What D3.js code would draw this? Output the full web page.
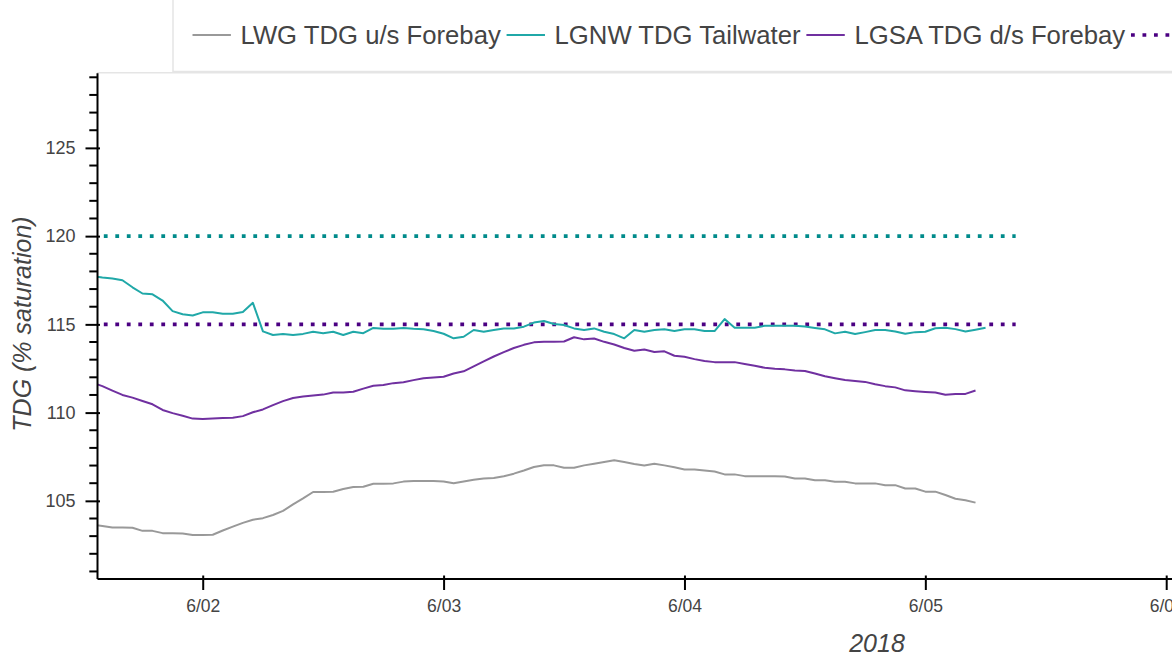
<!DOCTYPE html>
<html>
<head>
<meta charset="utf-8">
<script src="https://cdn.jsdelivr.net/npm/d3@7"></script>
<style>
  html, body { margin: 0; padding: 0; background: #fff; overflow: hidden; }
  svg { display: block; font-family: "Liberation Sans", Arial, Helvetica, sans-serif; }
</style>
</head>
<body>
<svg id="chart" width="1172" height="656"></svg>
<script>
// ---------------- data ----------------
const seriesStart = "2018-06-01T13:00:00"; // hourly samples
const lwgForebay = [103.65,103.58,103.49,103.49,103.48,103.3,103.3,103.17,103.17,103.15,103.07,103.07,103.08,103.32,103.54,103.75,103.93,104.02,104.2,104.43,104.8,105.14,105.5,105.5,105.52,105.67,105.78,105.8,105.97,105.97,105.99,106.09,106.12,106.12,106.12,106.1,106.0,106.1,106.19,106.27,106.29,106.39,106.54,106.72,106.92,107.02,107.01,106.88,106.87,107.01,107.1,107.2,107.3,107.2,107.09,107.0,107.1,107.01,106.9,106.78,106.78,106.72,106.66,106.5,106.5,106.4,106.4,106.4,106.4,106.38,106.27,106.27,106.17,106.17,106.08,106.08,105.99,105.99,105.99,105.89,105.89,105.7,105.7,105.52,105.52,105.33,105.12,105.03,104.9];
const lgnwTailwater = [117.75,117.65,117.6,117.5,117.1,116.75,116.7,116.35,115.75,115.57,115.5,115.68,115.69,115.6,115.6,115.7,116.22,114.6,114.4,114.45,114.4,114.46,114.58,114.5,114.58,114.4,114.58,114.5,114.8,114.75,114.75,114.8,114.75,114.72,114.62,114.47,114.21,114.3,114.68,114.58,114.68,114.77,114.77,114.87,115.1,115.19,115.02,114.96,114.77,114.68,114.77,114.58,114.45,114.21,114.68,114.58,114.68,114.72,114.62,114.72,114.72,114.62,114.62,115.3,114.81,114.81,114.81,114.92,114.92,114.92,114.92,114.88,114.8,114.72,114.49,114.58,114.45,114.56,114.68,114.68,114.6,114.47,114.56,114.58,114.78,114.81,114.73,114.6,114.7,114.81];
const lgsaForebay = [111.7,111.5,111.25,111.0,110.85,110.66,110.47,110.15,109.97,109.82,109.66,109.64,109.67,109.69,109.71,109.8,110.02,110.18,110.42,110.65,110.83,110.91,110.97,111.02,111.14,111.14,111.18,111.36,111.52,111.56,111.67,111.72,111.84,111.95,111.99,112.03,112.22,112.34,112.62,112.9,113.18,113.43,113.66,113.84,113.98,114.02,114.02,114.03,114.27,114.15,114.2,114.01,113.86,113.66,113.5,113.58,113.43,113.47,113.22,113.16,113.03,112.93,112.86,112.86,112.86,112.76,112.65,112.54,112.48,112.45,112.38,112.36,112.22,112.06,111.95,111.85,111.79,111.74,111.61,111.5,111.43,111.26,111.21,111.17,111.14,111.01,111.05,111.06,111.25];
const criteriaTailwater = 120;
const criteriaForebay = 115;
const criteriaStart = "2018-06-01T13:00:00";
const criteriaEnd = "2018-06-05T09:00:00";
const dayTicks = ["2018-06-02T00:00:00","2018-06-03T00:00:00","2018-06-04T00:00:00","2018-06-05T00:00:00","2018-06-06T00:00:00"];
const yMajorTicks = [105,110,115,120,125];
const yMinorTicks = [101,102,103,104,106,107,108,109,111,112,113,114,116,117,118,119,121,122,123,124,126,127,128,129];
const legendLabels = ["LWG TDG u/s Forebay","LGNW TDG Tailwater","LGSA TDG d/s Forebay",""];
const xAxisLabel = "2018";
const yAxisLabel = "TDG (% saturation)";

// ---------------- setup ----------------
const svg = d3.select("#chart");
const W = 1172, H = 656;
const plotL = 97, plotT = 72.7, plotB = 578.5;
const textColor = "#444444";

const x = d3.scaleTime()
  .domain([new Date("2018-06-01T13:28:00"), new Date("2018-06-06T06:00:00")])
  .range([plotL, 1166.2 + 0.25 * 240.9]);
const y = d3.scaleLinear().domain([100.6, 129.26]).range([plotB, plotT]);

const t0 = new Date(seriesStart).getTime();
const timesFor = arr => arr.map((_, i) => new Date(t0 + i * 3600e3));

// outline top
svg.append("line").attr("x1", plotL).attr("x2", W).attr("y1", plotT).attr("y2", plotT)
  .attr("stroke", "#e5e5e5").attr("stroke-width", 1.5);

// clip
svg.append("defs").append("clipPath").attr("id", "clip")
  .append("rect").attr("x", plotL).attr("y", plotT).attr("width", W - plotL).attr("height", plotB - plotT);

const gPlot = svg.append("g").attr("clip-path", "url(#clip)");

const line = d3.line().x(d => x(d.t)).y(d => y(d.v));

const seriesDefs = [
  { vals: lwgForebay, color: "#999999" },
  { vals: lgnwTailwater, color: "#20a8a8" },
  { vals: lgsaForebay, color: "#7030a0" }
];

// criteria dotted lines
const critDefs = [
  { v: criteriaTailwater, color: "#008b8b" },
  { v: criteriaForebay, color: "#4b0082" }
];
critDefs.forEach(c => {
  gPlot.append("path")
    .datum([{ t: new Date(criteriaStart), v: c.v }, { t: new Date(criteriaEnd), v: c.v }])
    .attr("d", line)
    .attr("fill", "none").attr("stroke", c.color)
    .attr("stroke-width", 3.6).attr("stroke-dasharray", "3.8,7.7");
});

seriesDefs.forEach(s => {
  const times = timesFor(s.vals);
  gPlot.append("path")
    .datum(s.vals.map((v, i) => ({ t: times[i], v })))
    .attr("d", line)
    .attr("fill", "none").attr("stroke", s.color)
    .attr("stroke-width", 2).attr("stroke-linejoin", "round");
});

// ---------------- axes ----------------
const xAxis = d3.axisBottom(x)
  .tickValues(dayTicks.map(d => new Date(d)))
  .tickFormat(d3.timeFormat("%-m/%d"))
  .tickSize(11.5).tickSizeOuter(0).tickPadding(10);
const gx = svg.append("g").attr("transform", `translate(0,${plotB})`).call(xAxis);
gx.select(".domain").attr("stroke", "#000").attr("stroke-width", 2);
gx.selectAll(".tick line").attr("stroke", "#000").attr("stroke-width", 2).attr("y1", -3);
gx.selectAll(".tick text").attr("fill", textColor).attr("font-size", 17.5)
  .attr("font-family", "'Liberation Sans', Arial, sans-serif");

const yAxis = d3.axisLeft(y).tickValues(yMajorTicks).tickFormat(d3.format("d"))
  .tickSize(11.5).tickSizeOuter(0).tickPadding(10);
const gy = svg.append("g").attr("transform", `translate(${plotL},0)`).call(yAxis);
gy.select(".domain").attr("stroke", "#000").attr("stroke-width", 2);
gy.selectAll(".tick line").attr("stroke", "#000").attr("stroke-width", 2).attr("x1", 3);
gy.selectAll(".tick text").attr("fill", textColor).attr("font-size", 18)
  .attr("font-family", "'Liberation Sans', Arial, sans-serif");
gy.selectAll(".minor").data(yMinorTicks).enter().append("line").attr("class", "minor")
  .attr("x1", -7.7).attr("x2", 0)
  .attr("y1", d => y(d)).attr("y2", d => y(d))
  .attr("stroke", "#000").attr("stroke-width", 2);

// axis labels
svg.append("text").attr("x", 877).attr("y", 652).attr("text-anchor", "middle")
  .attr("font-size", 25).attr("font-style", "italic").attr("fill", textColor).text(xAxisLabel);
svg.append("text").attr("transform", "translate(22,324) rotate(-90)")
  .attr("text-anchor", "middle").attr("dominant-baseline", "central")
  .attr("font-size", 25).attr("font-style", "italic").attr("fill", textColor).text(yAxisLabel);

// ---------------- legend ----------------
const gLeg = svg.append("g");
gLeg.append("rect").attr("x", 173).attr("y", -5).attr("width", 1100).attr("height", 76.5)
  .attr("fill", "#fff").attr("stroke", "#e5e5e5").attr("stroke-width", 1.5);
const legendStyles = [
  { color: "#999999", dash: null, width: 2 },
  { color: "#20a8a8", dash: null, width: 2 },
  { color: "#7030a0", dash: null, width: 2 },
  { color: "#4b0082", dash: "3.8,7.7", width: 3.6 }
];
let lx = 192.5;
const ly = 35;
legendLabels.forEach((lab, i) => {
  const st = legendStyles[i];
  const gl = gLeg.append("line").attr("x1", lx).attr("x2", lx + 38.4).attr("y1", ly).attr("y2", ly)
    .attr("stroke", st.color).attr("stroke-width", st.width);
  if (st.dash) gl.attr("stroke-dasharray", st.dash);
  const t = gLeg.append("text").attr("x", lx + 38.4 + 9.6).attr("y", ly)
    .attr("dominant-baseline", "central").attr("font-size", 25.7).attr("fill", textColor).text(lab);
  lx = lx + 38.4 + 9.6 + t.node().getComputedTextLength() + 5.8;
});
</script>
</body>
</html>
